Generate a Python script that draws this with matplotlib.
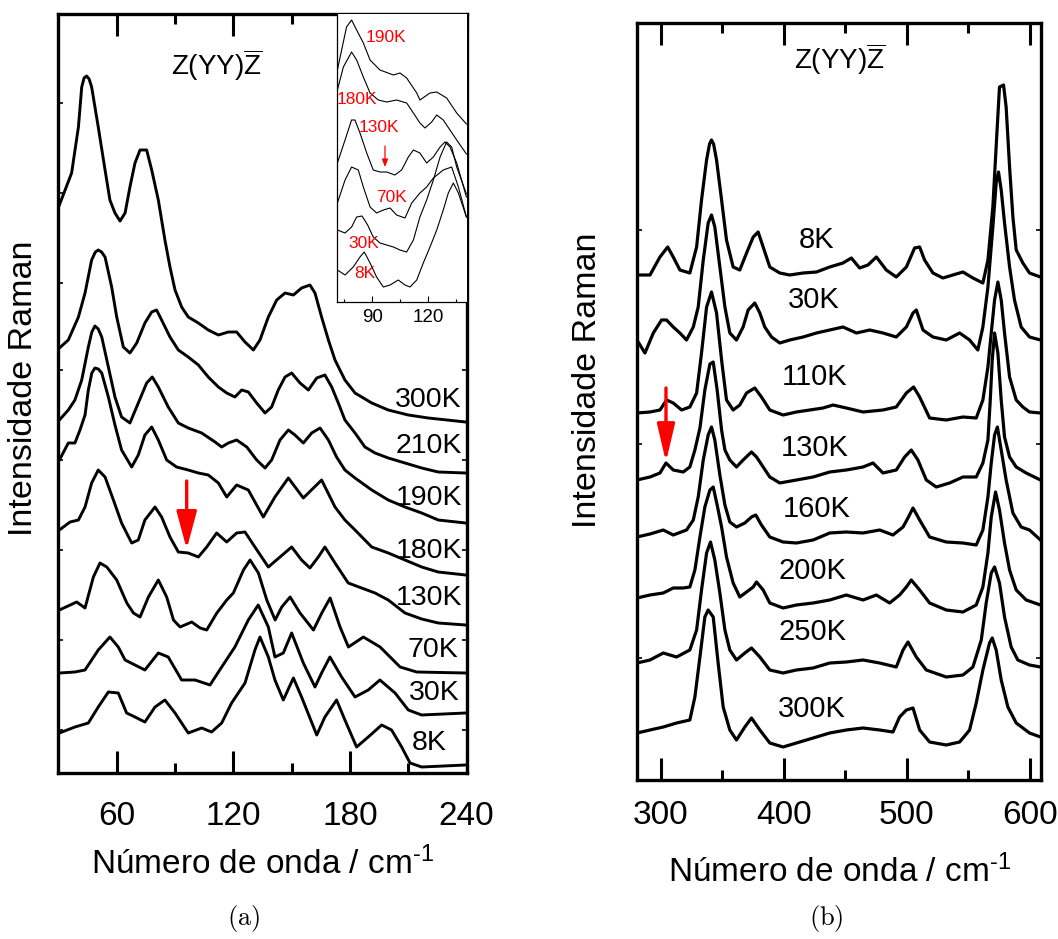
import matplotlib
matplotlib.use("Agg")
import matplotlib.pyplot as plt

plt.rcParams['font.family'] = ['Liberation Sans', 'DejaVu Sans']
plt.rcParams['mathtext.fontset'] = 'custom'
plt.rcParams['mathtext.rm'] = 'Liberation Sans'
plt.rcParams['mathtext.it'] = 'Liberation Sans:italic'
plt.rcParams['mathtext.bf'] = 'Liberation Sans:bold'

# ---------------- panel (a): 30-240 cm-1, stacked spectra ----------------
a_300K_x = [30.5, 36.8, 40.3, 42.0, 43.2, 44.5, 45.8, 47.1, 50.5, 54.0, 56.5, 59.1, 61.7, 64.3, 66.8, 69.4,
            72.0, 75.4, 78.0, 81.4, 84.8, 87.4, 90.0, 93.4, 96.8, 102.0, 107.1, 112.3, 117.4, 121.7, 126.0,
            130.3, 133.7, 138.0, 142.3, 146.6, 150.9, 155.1, 159.4, 162.0, 165.4, 168.9, 172.3, 177.4, 182.6,
            191.2, 199.7, 210.0, 220.3, 239.5]
a_300K_y = [568, 600, 646, 686, 695, 697, 694, 686, 646, 603, 573, 560, 552, 560, 586, 610, 623, 623, 603, 573,
            533, 506, 483, 466, 456, 450, 443, 438, 441, 441, 431, 423, 433, 456, 473, 480, 478, 485, 488, 480,
            456, 433, 413, 393, 380, 370, 363, 358, 355, 351]

a_210K_x = [30.5, 35.1, 40.3, 43.7, 47.1, 49.0, 50.5, 52.2, 54.0, 57.4, 60.0, 63.4, 66.8, 70.3, 74.5, 78.0,
            80.5, 83.1, 87.4, 91.7, 96.8, 102.0, 107.1, 112.3, 116.6, 120.8, 124.3, 127.7, 132.0, 136.3, 139.7,
            143.1, 146.6, 150.0, 154.3, 158.6, 162.9, 167.1, 170.6, 174.0, 177.4, 182.6, 187.7, 192.9, 199.7,
            208.3, 216.9, 225.4, 239.5]
a_210K_y = [425, 433, 456, 480, 513, 521, 523, 521, 516, 486, 456, 426, 420, 430, 450, 461, 463, 453, 436, 423,
            416, 408, 396, 386, 380, 376, 383, 381, 370, 360, 366, 383, 396, 400, 390, 383, 395, 398, 386, 370,
            353, 340, 326, 320, 315, 310, 305, 301, 300]

a_190K_x = [30.5, 35.1, 38.5, 42.0, 45.4, 47.2, 48.8, 50.5, 52.3, 55.7, 59.1, 62.5, 66.8, 71.1, 75.4, 78.3,
            81.4, 86.5, 91.7, 96.8, 103.7, 110.6, 114.0, 117.4, 121.7, 126.9, 132.0, 136.3, 139.7, 144.0, 148.3,
            151.7, 156.0, 160.3, 164.6, 168.9, 173.1, 177.4, 182.6, 191.2, 199.7, 208.3, 216.9, 225.4, 239.5]
a_190K_y = [353, 363, 373, 393, 426, 441, 447, 444, 436, 406, 376, 356, 350, 370, 390, 396, 386, 366, 350, 345,
            340, 331, 326, 330, 333, 326, 313, 305, 313, 333, 343, 338, 330, 340, 345, 333, 316, 303, 295, 283,
            273, 266, 260, 253, 250]

a_180K_x = [30.5, 35.1, 38.5, 41.1, 43.7, 45.4, 47.2, 48.8, 50.5, 52.3, 55.7, 59.1, 62.5, 67.7, 71.1, 74.5,
            78.0, 81.4, 85.7, 90.8, 96.8, 102.0, 107.1, 112.3, 116.6, 121.7, 127.7, 135.4, 141.4, 148.3, 156.0,
            165.4, 172.3, 177.4, 182.6, 191.2, 199.7, 208.3, 216.9, 225.4, 239.5]
a_180K_y = [313, 330, 330, 343, 358, 383, 400, 405, 404, 400, 376, 348, 323, 306, 318, 338, 346, 333, 313, 306,
            303, 300, 298, 290, 276, 288, 283, 256, 276, 295, 275, 293, 266, 253, 243, 226, 220, 213, 206, 201,
            198]

a_130K_x = [30.5, 36.0, 40.3, 43.7, 47.1, 50.5, 54.0, 58.3, 62.5, 67.7, 71.1, 74.5, 79.7, 83.1, 87.4, 91.7,
            96.8, 102.0, 106.3, 111.4, 116.6, 121.7, 126.0, 131.1, 138.0, 144.0, 150.0, 155.1, 159.4, 163.7, 167.1,
            172.3, 179.1, 186.0, 192.9, 199.7, 208.3, 216.9, 225.4, 239.5]
a_130K_y = [243, 251, 253, 266, 290, 303, 296, 273, 250, 230, 233, 253, 266, 256, 236, 221, 220, 216, 226, 240,
            231, 240, 241, 226, 206, 216, 226, 213, 205, 216, 226, 210, 190, 185, 180, 173, 160, 154, 150, 148]

a_70K_x = [30.5, 39.4, 43.7, 48.0, 51.4, 54.9, 60.0, 65.2, 68.6, 72.0, 76.3, 81.4, 85.7, 89.2, 92.6, 98.6,
           102.9, 106.3, 111.5, 116.6, 120.0, 125.2, 128.6, 132.9, 137.2, 141.5, 144.9, 149.2, 154.3, 161.2,
           165.5, 169.8, 174.9, 179.2, 186.9, 195.5, 205.8, 214.3, 239.5]
a_70K_y = [163, 171, 165, 196, 210, 206, 193, 170, 160, 156, 176, 193, 176, 153, 146, 151, 145, 143, 160, 173,
           180, 203, 213, 200, 173, 153, 166, 176, 160, 143, 160, 175, 146, 126, 136, 126, 106, 101, 100]

a_30K_x = [30.5, 38.5, 43.7, 50.5, 56.5, 60.8, 64.3, 69.4, 74.5, 81.4, 86.5, 93.4, 100.3, 108.0, 114.0, 120.8,
           127.7, 132.8, 138.0, 141.4, 145.7, 150.0, 156.0, 162.0, 165.4, 169.7, 175.7, 182.6, 189.4, 195.4,
           203.2, 210.0, 216.9, 239.5]
a_30K_y = [100, 101, 103, 123, 136, 126, 113, 108, 103, 120, 116, 93, 93, 88, 106, 126, 153, 168, 146, 116,
           120, 140, 110, 86, 100, 116, 96, 76, 83, 93, 80, 63, 58, 60]

a_8K_x = [30.5, 38.5, 45.4, 50.5, 55.7, 60.8, 65.1, 69.4, 74.5, 79.7, 84.8, 90.0, 96.8, 103.7, 108.8, 114.0,
          119.1, 126.0, 131.1, 133.7, 138.0, 141.4, 145.7, 150.9, 155.1, 162.9, 167.1, 173.1, 177.4, 183.4,
          189.4, 196.3, 201.4, 206.6, 210.9, 216.9, 239.5]
a_8K_y = [40, 46, 50, 66, 81, 80, 60, 56, 51, 66, 73, 60, 40, 45, 41, 50, 70, 90, 123, 136, 116, 93, 73, 95,
          76, 38, 56, 73, 53, 26, 36, 48, 43, 26, 10, 6, 8]

a_labels = ['300K', '210K', '190K', '180K', '130K', '70K', '30K', '8K']
a_label_x = [237.6, 237.6, 237.6, 237.6, 237.6, 235.6, 236.6, 229.9]
a_label_y = [366, 320, 268, 215, 168, 116, 73, 23]

# ---------------- inset of panel (a): 71-140 cm-1 ----------------
i_190K_x = [71.3, 76.2, 78.9, 81.6, 85.2, 88.8, 94.1, 101.3, 104.8, 108.4, 113.8, 115.5, 120.9, 124.5, 129.8,
            135.2, 140.4]
i_190K_y = [232, 275, 282, 272, 259, 242, 232, 227, 229, 224, 209, 202, 209, 210, 204, 189, 178]
i_180K_x = [71.3, 74.5, 78.9, 81.6, 85.2, 88.8, 93.2, 97.7, 103.0, 108.4, 112.0, 115.5, 118.2, 121.8, 124.5,
            128.0, 131.6, 135.2, 140.4]
i_180K_y = [212, 235, 250, 242, 225, 209, 202, 200, 202, 199, 189, 179, 174, 180, 187, 182, 172, 162, 148]
i_130K_x = [71.3, 75.4, 78.9, 80.7, 83.4, 87.0, 90.5, 94.1, 97.7, 102.1, 105.7, 109.3, 112.0, 115.5, 119.1,
            122.7, 126.3, 128.9, 131.6, 135.2, 140.4]
i_130K_y = [139, 162, 182, 182, 169, 149, 132, 130, 130, 127, 132, 145, 152, 149, 139, 145, 155, 160, 155, 139, 105]
i_70K_x = [71.3, 75.4, 78.9, 82.5, 85.2, 88.8, 92.3, 95.9, 99.5, 103.0, 107.5, 111.1, 115.5, 119.1, 122.7,
           128.0, 132.5, 136.1, 140.4]
i_70K_y = [99, 122, 135, 132, 115, 95, 89, 92, 94, 87, 84, 99, 109, 115, 124, 132, 135, 115, 85]
i_30K_x = [71.3, 75.4, 78.9, 81.6, 84.5, 87.5, 90.5, 94.1, 97.7, 101.3, 104.8, 108.4, 112.0, 115.5, 119.1,
           122.7, 126.3, 129.8, 132.5, 135.2, 140.4]
i_30K_y = [72, 69, 75, 85, 86, 77, 65, 59, 57, 55, 52, 50, 62, 85, 102, 122, 145, 160, 155, 135, 108]
i_8K_x = [71.3, 75.4, 79.8, 83.4, 85.7, 88.8, 92.3, 95.9, 99.5, 103.9, 107.5, 110.2, 113.8, 117.3, 120.9,
          124.5, 128.0, 130.7, 133.4, 136.1, 140.4]
i_8K_y = [32, 27, 35, 45, 50, 39, 25, 15, 17, 22, 17, 15, 22, 39, 55, 72, 92, 109, 119, 109, 85]

i_labels = ['190K', '180K', '130K', '70K', '30K', '8K']
i_label_x = [97.1, 82.0, 93.6, 100.4, 85.2, 86.0]
i_label_y = [264, 203, 175, 104, 59, 28]

# ---------------- panel (b): 280-610 cm-1, stacked spectra ----------------
b_8K_x = [280.5, 291.1, 299.2, 305.5, 310.0, 315.4, 323.5, 329.0, 333.0, 337.1, 339.5, 341.1, 342.8, 345.2,
          349.3, 353.3, 358.7, 364.1, 369.6, 375.0, 379.0, 383.1, 388.5, 396.6, 404.7, 415.6, 426.4, 437.2,
          448.0, 454.8, 461.5, 468.3, 475.1, 483.2, 491.3, 499.5, 506.2, 510.3, 514.3, 521.1, 529.2, 537.3,
          545.5, 553.6, 561.7, 565.8, 569.8, 573.1, 575.2, 578.5, 580.6, 583.4, 586.1, 588.8, 594.2, 599.6,
          608.5]
b_8K_y = [505, 505, 523, 533, 523, 510, 507, 533, 580, 620, 636, 640, 636, 620, 580, 540, 513, 510, 527, 543,
          548, 533, 513, 507, 505, 507, 508, 513, 517, 522, 512, 515, 523, 510, 503, 513, 532, 533, 520, 507,
          502, 505, 508, 502, 497, 520, 573, 647, 693, 695, 673, 613, 563, 530, 517, 507, 503]

b_30K_x = [280.5, 287.0, 293.8, 300.5, 304.6, 310.0, 315.4, 320.8, 326.3, 330.3, 334.4, 338.4, 341.1, 343.8,
           347.9, 352.0, 356.0, 361.4, 366.8, 370.9, 376.3, 380.4, 384.4, 389.9, 396.6, 404.7, 415.6, 426.4,
           437.2, 448.0, 458.9, 469.7, 480.5, 491.3, 499.5, 504.9, 507.6, 513.0, 521.1, 531.9, 542.8, 550.9,
           557.6, 561.7, 565.8, 569.8, 572.5, 574.4, 576.6, 579.3, 583.4, 587.4, 592.8, 599.6, 608.5]
b_30K_y = [440, 427, 447, 460, 460, 453, 447, 440, 453, 473, 520, 557, 565, 553, 513, 473, 447, 440, 453, 470,
           477, 467, 453, 443, 437, 440, 443, 447, 450, 453, 447, 450, 447, 443, 453, 467, 470, 450, 443, 440,
           447, 440, 430, 453, 493, 553, 597, 608, 590, 557, 513, 480, 453, 443, 440]

b_110K_x = [280.5, 291.1, 299.2, 304.6, 310.0, 316.8, 323.5, 329.0, 333.0, 337.1, 341.1, 345.2, 349.3, 353.3,
            358.7, 364.1, 369.6, 376.3, 381.7, 388.5, 399.3, 410.1, 421.0, 431.8, 439.9, 450.7, 464.3, 480.5,
            491.3, 499.5, 505.4, 510.3, 518.4, 531.9, 545.5, 556.3, 561.7, 565.8, 568.5, 571.2, 573.9, 576.6,
            579.3, 583.4, 588.8, 594.2, 599.6, 608.5]
b_110K_y = [367, 368, 370, 380, 377, 370, 373, 387, 427, 473, 488, 467, 420, 380, 370, 375, 387, 392, 383, 370,
            365, 368, 370, 372, 375, 372, 368, 370, 373, 387, 393, 383, 362, 360, 363, 362, 380, 413, 447, 480,
            498, 480, 447, 403, 380, 373, 368, 367]

b_130K_x = [280.5, 291.1, 299.2, 304.1, 310.0, 318.1, 323.5, 327.6, 331.7, 335.7, 339.8, 342.5, 345.7, 349.3,
            352.0, 356.0, 361.4, 366.8, 373.6, 377.7, 383.1, 388.5, 396.6, 410.1, 423.7, 437.2, 450.7, 464.3,
            472.4, 480.5, 491.3, 498.1, 503.5, 508.9, 515.7, 523.8, 534.6, 545.5, 556.3, 561.7, 565.8, 567.7,
            569.3, 571.2, 573.9, 576.6, 579.3, 583.4, 588.8, 596.9, 608.5]
b_130K_y = [300, 303, 307, 317, 310, 308, 313, 330, 352, 390, 416, 418, 390, 350, 330, 320, 313, 320, 328, 323,
            313, 303, 297, 300, 303, 308, 310, 313, 317, 307, 310, 323, 330, 320, 300, 293, 297, 303, 303, 317,
            340, 380, 420, 447, 427, 380, 343, 323, 313, 307, 300]

b_160K_x = [280.5, 291.1, 301.9, 310.0, 320.8, 326.3, 330.3, 334.4, 338.4, 341.1, 343.8, 347.9, 352.0, 356.0,
            361.4, 368.2, 373.6, 377.1, 381.7, 388.5, 399.3, 410.1, 423.7, 437.2, 450.7, 464.3, 477.8, 488.6,
            496.8, 500.8, 504.9, 510.3, 518.4, 531.9, 545.5, 556.3, 561.7, 565.8, 568.5, 571.2, 573.5, 576.6,
            580.6, 586.1, 592.8, 599.6, 608.5]
b_160K_y = [243, 246, 250, 245, 250, 260, 283, 320, 345, 353, 340, 305, 275, 258, 253, 257, 263, 265, 255, 243,
            238, 237, 240, 247, 248, 247, 250, 245, 253, 262, 272, 260, 243, 238, 237, 235, 250, 283, 317, 345,
            353, 330, 300, 267, 253, 250, 240]

b_200K_x = [280.5, 291.1, 301.9, 310.0, 318.1, 323.5, 327.6, 331.7, 335.7, 339.8, 342.5, 345.7, 349.3, 353.3,
            358.7, 364.1, 369.6, 375.0, 377.7, 383.1, 388.5, 399.3, 410.1, 423.7, 437.2, 450.7, 464.3, 475.1,
            485.9, 494.0, 499.5, 503.5, 510.3, 518.4, 531.9, 545.5, 556.3, 561.7, 565.8, 568.5, 572.0, 575.2,
            579.3, 583.4, 588.8, 596.9, 608.5]
b_200K_y = [182, 185, 187, 192, 192, 193, 210, 243, 273, 290, 293, 275, 253, 223, 197, 183, 188, 193, 198, 190,
            177, 172, 175, 177, 180, 185, 180, 185, 177, 185, 193, 200, 190, 177, 170, 168, 175, 193, 227, 263,
            288, 270, 237, 210, 190, 180, 175]

b_250K_x = [280.5, 291.1, 301.9, 312.7, 323.5, 329.0, 333.0, 337.1, 340.3, 343.8, 347.9, 352.0, 356.0, 361.4,
            368.2, 373.6, 380.4, 388.5, 399.3, 410.1, 423.7, 437.2, 450.7, 464.3, 477.8, 491.3, 496.8, 500.8,
            507.6, 515.7, 531.9, 545.5, 553.6, 560.4, 564.4, 568.5, 571.2, 575.2, 579.3, 584.7, 590.1, 599.6,
            608.5]
b_250K_y = [117, 120, 127, 123, 130, 150, 190, 227, 238, 220, 187, 150, 130, 120, 127, 132, 123, 110, 107, 110,
            112, 117, 118, 120, 117, 113, 130, 138, 123, 110, 103, 105, 113, 140, 177, 207, 213, 197, 163, 133,
            120, 115, 113]

b_300K_x = [280.5, 291.1, 301.9, 312.7, 323.5, 327.6, 331.7, 335.7, 338.4, 342.5, 346.5, 350.6, 356.0, 361.4,
            368.2, 373.6, 380.4, 388.5, 399.3, 410.1, 423.7, 437.2, 450.7, 464.3, 477.8, 488.6, 494.0, 499.5,
            504.9, 510.3, 518.4, 531.9, 542.8, 550.9, 556.3, 561.7, 567.1, 569.3, 572.5, 576.6, 582.0, 588.8,
            599.6, 608.5]
b_300K_y = [47, 50, 53, 57, 60, 83, 123, 163, 170, 163, 117, 73, 50, 40, 53, 62, 50, 37, 33, 37, 42, 47, 50, 52,
            50, 48, 63, 70, 72, 50, 38, 35, 38, 50, 77, 110, 137, 142, 130, 100, 73, 57, 47, 43]

b_labels = ['8K', '30K', '110K', '130K', '160K', '200K', '250K', '300K']
b_label_x = [426.7, 424.2, 425.0, 425.0, 426.7, 423.4, 423.4, 422.6]
b_label_y = [532, 472, 395, 324, 263, 201, 140, 63]

a_xticks = [60, 120, 180, 240]
a_xminor = [90, 150, 210]
b_xticks = [300, 400, 500, 600]
b_xminor = [350, 450, 550]
i_xticks = [90, 120]
i_xminor = [75, 105, 135]

# ---------------- figure layout (pixel boxes) ----------------
W, H = 1058, 939
fig = plt.figure(figsize=(W / 100, H / 100), dpi=100)


def box(x0, y0, x1, y1):
    return [x0 / W, 1 - y1 / H, (x1 - x0) / W, (y1 - y0) / H]


ax_a = fig.add_axes(box(58.4, 14, 466.6, 773))
ax_b = fig.add_axes(box(636.7, 22.7, 1040.7, 780))
ax_in = fig.add_axes(box(337.3, 14, 466.6, 302))
ax_in.set_zorder(5)

RED = '#ff0000'


def style_main(ax, xt, xm, pad):
    for s in ax.spines.values():
        s.set_linewidth(2.4)
    ax.set_xticks(xt)
    ax.set_xticks(xm, minor=True)
    ax.tick_params(axis='x', which='major', direction='in', length=15.8, width=2.2,
                   top=True, bottom=True, labelsize=24, pad=pad)
    ax.tick_params(axis='x', which='minor', direction='in', length=7.5, width=2.2,
                   top=True, bottom=True)
    ax.tick_params(axis='y', which='both', direction='in', length=3.5, width=1.2,
                   left=True, right=True, labelleft=False)


# panel (a)
a_series = [(a_300K_x, a_300K_y), (a_210K_x, a_210K_y), (a_190K_x, a_190K_y), (a_180K_x, a_180K_y),
            (a_130K_x, a_130K_y), (a_70K_x, a_70K_y), (a_30K_x, a_30K_y), (a_8K_x, a_8K_y)]
for xs, ys in a_series:
    ax_a.plot(xs, ys, color='black', lw=2.1)
for lab, lx, ly in zip(a_labels, a_label_x, a_label_y):
    ax_a.text(lx, ly, lab, ha='right', va='baseline', fontsize=20.5)
ax_a.set_xlim(30, 240)
ax_a.set_ylim(0, 759)
style_main(ax_a, a_xticks, a_xminor, 20.5)
ax_a.set_yticks([43, 133, 223, 313, 403, 490, 580, 670])
ax_a.text(111.6, 698, r'Z(YY)$\overline{\mathrm{Z}}$', ha='center', va='baseline', fontsize=20)
ax_a.annotate('', xy=(96.0, 224), xytext=(96.0, 292),
              arrowprops=dict(arrowstyle='-|>,head_length=1.15,head_width=0.31', mutation_scale=20,
                              color=RED, lw=2.4, shrinkA=0, shrinkB=0))

# inset
ax_in.set_facecolor('white')
i_series = [(i_190K_x, i_190K_y), (i_180K_x, i_180K_y), (i_130K_x, i_130K_y),
            (i_70K_x, i_70K_y), (i_30K_x, i_30K_y), (i_8K_x, i_8K_y)]
for xs, ys in i_series:
    ax_in.plot(xs, ys, color='black', lw=0.8)
for lab, lx, ly in zip(i_labels, i_label_x, i_label_y):
    ax_in.text(lx, ly, lab, ha='center', va='center', fontsize=12.5, color=RED)
ax_in.annotate('', xy=(96.8, 135), xytext=(96.8, 156),
               arrowprops=dict(arrowstyle='-|>,head_length=0.45,head_width=0.18', mutation_scale=10,
                               color=RED, lw=0.9, shrinkA=0, shrinkB=0))
ax_in.set_xlim(71.25, 140.5)
ax_in.set_ylim(0, 288)
ax_in.spines['top'].set_visible(False)
ax_in.spines['right'].set_visible(False)
ax_in.spines['left'].set_linewidth(0.9)
ax_in.spines['bottom'].set_linewidth(0.9)
ax_in.set_xticks(i_xticks)
ax_in.set_xticks(i_xminor, minor=True)
ax_in.set_yticks([])
ax_in.tick_params(axis='x', which='major', direction='in', length=4, width=0.8, labelsize=13.5, pad=5)
ax_in.tick_params(axis='x', which='minor', direction='in', length=2.5, width=0.8)

# panel (b)
b_series = [(b_8K_x, b_8K_y), (b_30K_x, b_30K_y), (b_110K_x, b_110K_y), (b_130K_x, b_130K_y),
            (b_160K_x, b_160K_y), (b_200K_x, b_200K_y), (b_250K_x, b_250K_y), (b_300K_x, b_300K_y)]
for xs, ys in b_series:
    ax_b.plot(xs, ys, color='black', lw=2.3)
for lab, lx, ly in zip(b_labels, b_label_x, b_label_y):
    ax_b.text(lx, ly, lab, ha='center', va='baseline', fontsize=21)
ax_b.set_xlim(280.3, 608.7)
ax_b.set_ylim(0, 757.3)
style_main(ax_b, b_xticks, b_xminor, 14.5)
ax_b.set_yticks([122, 336, 550])
ax_b.text(445.3, 711, r'Z(YY)$\overline{\mathrm{Z}}$', ha='center', va='baseline', fontsize=20)
ax_b.annotate('', xy=(304.1, 318), xytext=(304.1, 392),
              arrowprops=dict(arrowstyle='-|>,head_length=1.15,head_width=0.27', mutation_scale=20,
                              color=RED, lw=2.4, shrinkA=0, shrinkB=0))

# axis titles and captions
xlab = r'Número de onda / cm$^{\text{-}1}$'
fig.text(262.5 / W, 1 - 874 / H, xlab, ha='center', va='baseline', fontsize=24)
fig.text(839 / W, 1 - 882 / H, xlab, ha='center', va='baseline', fontsize=24)
fig.text(24 / W, 1 - 388 / H, 'Intensidade Raman', rotation=90, ha='center', va='center', fontsize=24.5)
fig.text(587 / W, 1 - 380 / H, 'Intensidade Raman', rotation=90, ha='center', va='center', fontsize=24.5)
fig.text(244 / W, 1 - 918 / H, r'$\mathrm{(a)}$', ha='center', va='center', fontsize=19, math_fontfamily='cm')
fig.text(826 / W, 1 - 918 / H, r'$\mathrm{(b)}$', ha='center', va='center', fontsize=19, math_fontfamily='cm')

fig.savefig('out.png', dpi=100)
